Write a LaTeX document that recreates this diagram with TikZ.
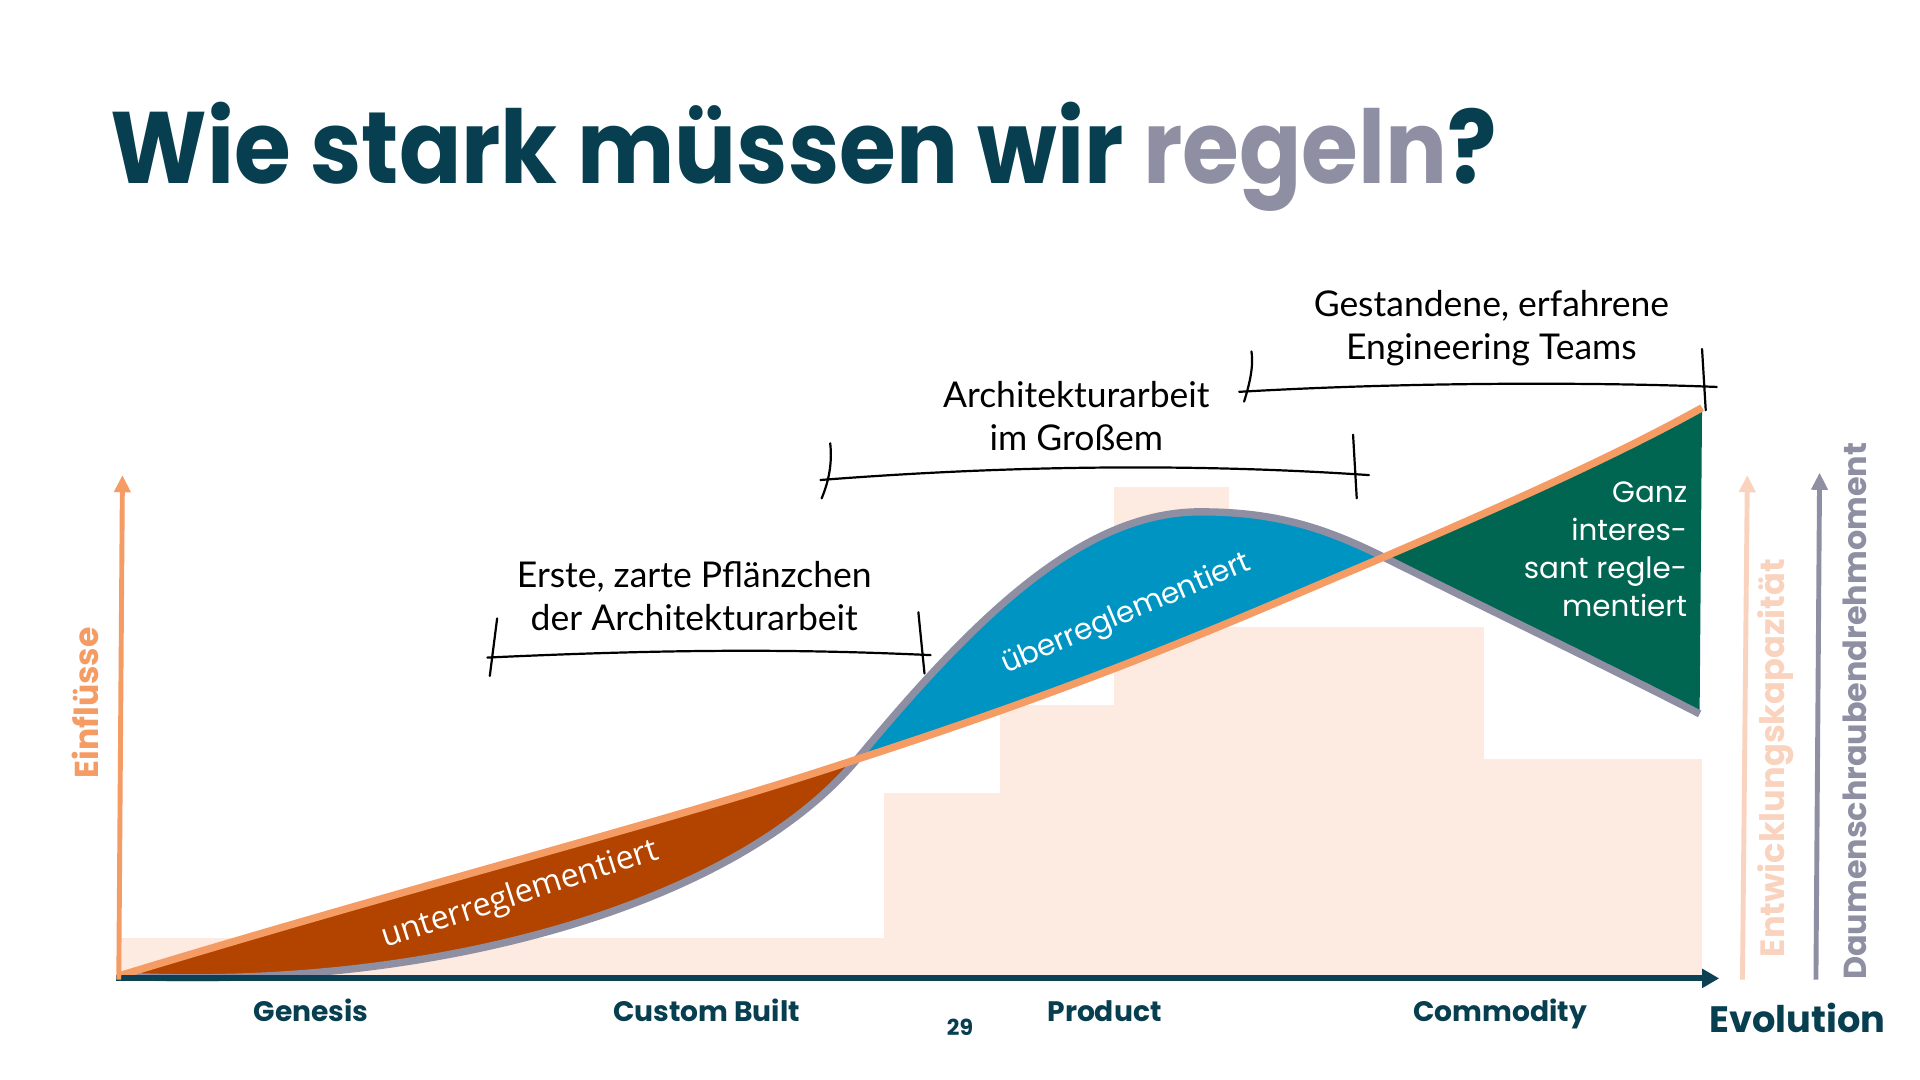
\documentclass[tikz,border=0pt]{standalone}
\usepackage{fontspec}
\setmainfont{Poppins}
\newfontfamily\handfont{Lato}
\newfontfamily\titlefont{Poppins}[FakeStretch=0.905]
\newfontfamily\opensans{Open Sans}
\usetikzlibrary{arrows.meta}
\definecolor{darkteal}{HTML}{073F51}
\definecolor{axisteal}{HTML}{0B4152}
\definecolor{greyv}{HTML}{8F8FA3}
\definecolor{orangev}{HTML}{F59B64}
\definecolor{peachbg}{HTML}{FDEAE0}
\definecolor{peacharrow}{HTML}{FAD3BE}
\definecolor{brownv}{HTML}{B24400}
\definecolor{bluev}{HTML}{0094C2}
\definecolor{greenv}{HTML}{006652}
\tikzset{
  block/.style={fill=peachbg, draw=none},
  bracketline/.style={black, line width=1.8pt, line cap=round},
  handtext/.style={font=\handfont\fontsize{29}{35}\selectfont, align=center, text=black},
  xlabel/.style={font=\bfseries\fontsize{23}{26}\selectfont, text=darkteal, anchor=base},
  ylabel/.style={font=\bfseries\fontsize{27}{30}\selectfont, rotate=90},
  arealabel/.style={font=\fontsize{24}{28}\selectfont, text=white},
}
\begin{document}
\begin{tikzpicture}[x=1pt,y=-1pt]
\useasboundingbox (0,0) rectangle (1568,882);
\fill[white] (0,0) rectangle (1568,882);

% title
\node[anchor=base west, inner sep=0, font=\titlefont\bfseries\fontsize{83}{90}\selectfont] (title) at (90,150)
  {\textcolor{darkteal}{Wie stark müssen wir }\textcolor{greyv}{regeln}\textcolor{darkteal}{?}};

% background blocks
\fill[block] (97,766) rectangle (722,799);
\fill[block] (722,648) rectangle (817,799);
\fill[block] (817,576) rectangle (910,799);
\fill[block] (910,398) rectangle (1004,799);
\fill[block] (1004,512) rectangle (1212,799);
\fill[block] (1212,620) rectangle (1390,799);

% areas
\fill[brownv] (97,797) .. controls (350,720) and (550,670) .. (700,620)
  .. controls (600,740) and (350,810) .. (97,797) -- cycle;
\fill[bluev] (700,620) .. controls (790,512) and (880,418) .. (980,418)
  .. controls (1040,418) and (1080,430) .. (1130,455)
  .. controls (1000,510) and (900,555) .. (700,620) -- cycle;
\fill[greenv] (1130,455) .. controls (1230,412) and (1320,372) .. (1390,333)
  -- (1388,583) .. controls (1320,548) and (1230,505) .. (1130,455) -- cycle;

% grey curve
\draw[greyv, line width=6pt] (97,797) .. controls (350,810) and (600,740) .. (700,620)
  .. controls (790,512) and (880,418) .. (980,418)
  .. controls (1040,418) and (1080,430) .. (1130,455)
  .. controls (1230,505) and (1320,548) .. (1388,583);
% orange curve
\draw[orangev, line width=6pt] (97,797) .. controls (350,720) and (550,670) .. (700,620)
  .. controls (900,555) and (1000,510) .. (1130,455)
  .. controls (1230,412) and (1320,372) .. (1390,333);

% area labels
\node[arealabel, rotate=18, font=\opensans\fontsize{26.5}{30}\selectfont] (unter) at (425,731) {unterreglementiert};
\node[arealabel, rotate=23] (ueber) at (920,502) {überreglementiert};
\node[arealabel, align=right, anchor=north east, inner sep=0,
  font=\fontsize{24}{31}\selectfont] (ganz) at (1378,393) {Ganz\\interes-\\sant regle-\\mentiert};

% axes
\coordinate (origin) at (95,799);
\coordinate (xend) at (1404,799);
\coordinate (ybot) at (97,800);
\coordinate (ytop) at (100,388);
\draw[axisteal, line width=5pt, -{Triangle[length=14pt,width=15pt]}] (origin) -- (xend);
\draw[orangev, line width=4pt, -{Triangle[length=14pt,width=13pt]}] (ybot) -- (ytop);
\coordinate (pbot) at (1423,800);
\coordinate (ptop) at (1427,388);
\draw[peacharrow, line width=4pt, -{Triangle[length=14pt,width=13pt]}] (pbot) -- (ptop);
\coordinate (gbot) at (1483,800);
\coordinate (gtop) at (1486,386);
\draw[greyv, line width=4pt, -{Triangle[length=14pt,width=13pt]}] (gbot) -- (gtop);

% axis labels
\node[ylabel, text=orangev] (einfl) at (70,574) {Einflüsse};
\node[ylabel, text=peacharrow, font=\bfseries\fontsize{27.5}{30}\selectfont] (entw) at (1450,619) {Entwicklungskapazität};
\node[ylabel, text=greyv, font=\bfseries\fontsize{26}{30}\selectfont] (daum) at (1515,581) {Daumenschraubendrehmoment};

\node[xlabel] (genesis) at (254,834) {Genesis};
\node[xlabel] (custom) at (577,834) {Custom Built};
\node[xlabel] (product) at (902,834) {Product};
\node[xlabel] (commodity) at (1225,834) {Commodity};
\node[xlabel, font=\bfseries\fontsize{30}{34}\selectfont] (evol) at (1468,843) {Evolution};
\node[xlabel, font=\bfseries\fontsize{18}{20}\selectfont] (page) at (784,846) {29};

% handwritten annotations
\node[handtext] (erste) at (567,487) {Erste, zarte Pflänzchen\\der Architekturarbeit};
\coordinate (b1l) at (398,537);
\coordinate (b1r) at (760,535);
\draw[bracketline] (b1l) .. controls (550,530) and (650,530) .. (b1r);
\draw[bracketline] (406,505) -- (400,552);
\draw[bracketline] (750,500) -- (755,550);

\node[handtext] (archi) at (879,340) {Architekturarbeit\\im Großem};
\coordinate (b2l) at (670,392);
\coordinate (b2r) at (1118,388);
\draw[bracketline] (b2l) .. controls (850,378) and (1000,380) .. (b2r);
\draw[bracketline] (678,362) .. controls (680,380) and (676,395) .. (671,407);
\draw[bracketline] (1105,355) -- (1108,407);

\node[handtext] (gest) at (1218,268) {Gestandene, erfahrene\\Engineering Teams};
\coordinate (b3l) at (1012,320);
\coordinate (b3r) at (1402,316);
\draw[bracketline] (b3l) .. controls (1150,312) and (1300,312) .. (b3r);
\draw[bracketline] (1022,287) .. controls (1024,300) and (1020,315) .. (1016,328);
\draw[bracketline] (1390,285) -- (1393,335);
\end{tikzpicture}
\end{document}
